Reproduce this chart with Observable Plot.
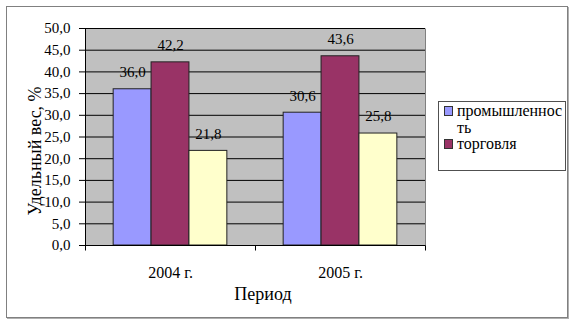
<!DOCTYPE html>
<html>
<head>
<meta charset="utf-8">
<script src="https://cdn.jsdelivr.net/npm/d3@7"></script>
<script src="https://cdn.jsdelivr.net/npm/@observablehq/plot@0.6"></script>
<style>
  html, body { margin: 0; padding: 0; background: #fff; }
  #wrap { position: relative; width: 576px; height: 326px; overflow: hidden; color: #000; }
  #wrap svg { position: absolute; left: 0; top: 0; }
  .ov { position: absolute; pointer-events: none; white-space: nowrap; }
  #outer { left: 6px; top: 6px; width: 562px; height: 312px; box-sizing: border-box;
           border: 1px solid #808080; box-shadow: 1px 1px 0 #b0b0b0; }
  #ytitle { left: 35px; top: 151px; font-size: 18px; transform: translate(-50%, -50%) rotate(-90deg); }
  #xtitle { left: 263px; top: 294px; font-size: 18px; transform: translate(-50%, -50%); }
  #legend { left: 438px; top: 101px; width: 128px; height: 70px; box-sizing: border-box;
            border: 1px solid #505050; background: #fff; overflow: hidden; }
  .entry { position: absolute; left: 18px; width: 108px; font-size: 16px; line-height: 17px;
           white-space: normal; word-break: break-all; }
  .sw { position: absolute; left: 5px; width: 7px; height: 8px; border: 1px solid #333; box-sizing: content-box; }
</style>
</head>
<body>
<div id="wrap"></div>
<script>
// ---- data ----
const years = ["2004 г.", "2005 г."];
const series = ["промышленность", "торговля", "прочие"];
const legendLabels = ["промышленность", "торговля"];
const values2004 = [36.0, 42.2, 21.8];
const values2005 = [30.6, 43.6, 25.8];
const colors = ["#9999FF", "#993366", "#FFFFCC"];
const yTicks = [0, 5, 10, 15, 20, 25, 30, 35, 40, 45, 50];
const yTitle = "Удельный вес, %";
const xTitle = "Период";

const FONT = '"Liberation Serif"';
const fmt = d => d.toFixed(1).replace(".", ",");
const rows = [];
[values2004, values2005].forEach((vals, gi) => {
  vals.forEach((v, si) => rows.push({year: years[gi], series: series[si], value: v}));
});

function makePlot(superMode) {
  const bg = superMode
    ? [Plot.frame({facet: "super", fill: "#C0C0C0", stroke: "#808080"}),
       Plot.gridY(yTicks, {facet: "super", stroke: "#000", strokeOpacity: 1})]
    : [Plot.gridY(yTicks, {stroke: "#000", strokeOpacity: 1})];
  return Plot.plot({
    width: 576,
    height: 326,
    marginLeft: 85,
    marginRight: 151,
    marginTop: 28,
    marginBottom: 81,
    style: {color: "#000", background: "transparent", fontFamily: "Liberation Serif"},
    fx: {domain: years, padding: 0, round: false},
    x: {domain: series, paddingInner: 0, paddingOuter: 0.743, round: false, axis: null},
    y: {domain: [0, 50]},
    color: {domain: series, range: colors},
    marks: [
      ...bg,
      Plot.barY(rows, {fx: "year", x: "series", y: "value", fill: "series", stroke: "#222", strokeWidth: 1}),
      Plot.text(rows, {fx: "year", x: "series", y: "value", text: d => fmt(d.value), dy: -17, fontSize: 15, fill: "#000"}),
      Plot.ruleY([0], {stroke: "#000"}),
      Plot.axisY(yTicks, {tickSize: 6, tickPadding: 9, tickFormat: fmt, fontSize: 15, label: null}),
      Plot.axisFx({anchor: "bottom", tickSize: 0, tickPadding: 21, fontSize: 16, label: null})
    ]
  });
}

let superOK = true, plot;
try { plot = makePlot(true); } catch (e) { superOK = false; plot = makePlot(false); }

// plot-area border lines and category boundary ticks from Plot's scales
const fxs = plot.scale("fx");
const ys = plot.scale("y");
const left = fxs.range[0], right = fxs.range[1];
const step = fxs.step || (right - left) / fxs.domain.length;
const yTop = ys.apply(50), yBot = ys.apply(0);
const svg = d3.select(plot);
svg.attr("font-family", FONT).style("font-family", FONT);
svg.selectAll("text").attr("font-family", FONT).style("font-family", FONT);
if (!superOK) {
  svg.insert("rect", "g")
    .attr("x", left).attr("y", yTop).attr("width", right - left).attr("height", yBot - yTop)
    .attr("fill", "#C0C0C0");
}
const g = svg.append("g").attr("transform", "translate(0.5,0.5)");
if (!superOK) g.append("line").attr("x1", right).attr("x2", right).attr("y1", yTop).attr("y2", yBot).attr("stroke", "#808080");
g.append("line").attr("x1", left).attr("x2", left).attr("y1", yTop).attr("y2", yBot).attr("stroke", "#000");
g.append("line").attr("x1", left).attr("x2", right).attr("y1", yBot).attr("y2", yBot).attr("stroke", "#000");
for (let i = 0; i <= fxs.domain.length; i++) {
  const x = left + i * step;
  g.append("line").attr("x1", x).attr("x2", x).attr("y1", yBot).attr("y2", yBot + 5).attr("stroke", "#000");
}

const wrap = document.getElementById("wrap");
wrap.appendChild(plot);

function addDiv(id, text) {
  const d = document.createElement("div");
  d.className = "ov"; d.id = id;
  d.style.fontFamily = FONT;
  if (text) d.textContent = text;
  wrap.appendChild(d);
  return d;
}
addDiv("outer");
addDiv("ytitle", yTitle);
addDiv("xtitle", xTitle);
const leg = addDiv("legend");
const entryTops = [0, 33];
legendLabels.forEach((lab, i) => {
  const sw = document.createElement("div");
  sw.className = "sw";
  sw.style.top = (entryTops[i] + 4) + "px";
  sw.style.background = colors[series.indexOf(lab)];
  leg.appendChild(sw);
  const t = document.createElement("div");
  t.className = "entry";
  t.style.fontFamily = FONT;
  t.style.top = (entryTops[i]) + "px";
  t.textContent = lab;
  leg.appendChild(t);
});
</script>
</body>
</html>
